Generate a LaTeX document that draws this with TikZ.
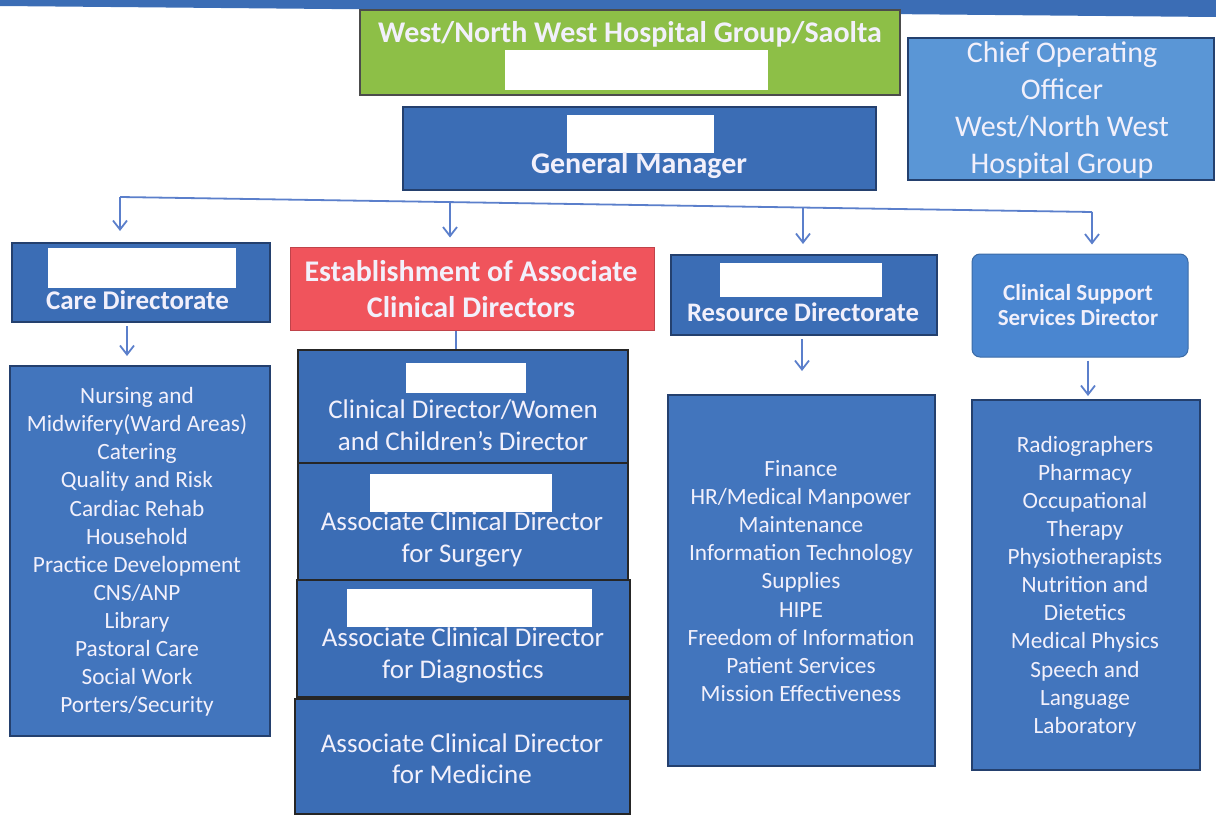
\documentclass[tikz,border=0pt]{standalone}
\usepackage{fontspec}
\setmainfont{Carlito}
\usetikzlibrary{arrows.meta}

\definecolor{navy}{HTML}{3B6DB5}
\definecolor{listblue}{HTML}{4275BD}
\definecolor{lightblue}{HTML}{5A96D6}
\definecolor{supblue}{HTML}{4A86D0}
\definecolor{edge}{HTML}{24406E}
\definecolor{leafgreen}{HTML}{8DBF47}
\definecolor{alertred}{HTML}{F0545C}
\definecolor{linkblue}{HTML}{5B7FCB}
\definecolor{txt}{HTML}{F2F0FB}

\tikzset{
  box/.style={draw=edge, line width=2pt, fill=navy, inner sep=0pt},
  blank/.style={fill=white, draw=none, inner sep=0pt},
  label/.style={text=txt, align=center, inner sep=0pt},
  head/.style={label, font=\fontsize{30}{36}\selectfont\bfseries},
  body/.style={label, font=\fontsize{27}{31.5}\selectfont},
  items/.style={label, font=\fontsize{23.3}{28.1}\selectfont},
  link/.style={draw=linkblue, line width=1.8pt},
  arrow/.style={link, -{Straight Barb[length=9pt,width=14pt,line width=1.8pt]}}
}

\begin{document}
\begin{tikzpicture}[x=1pt,y=-1pt]
\useasboundingbox (0,0) rectangle (1216,816);

% strip along the top edge
\fill[navy] (0,0) -- (1216,0) -- (1216,17) -- (0,6) -- cycle;

% group / general manager level
\node[box, draw=gray!60!black, fill=leafgreen, minimum width=540pt, minimum height=85pt] (group) at (630,52.5) {};
\node[blank, minimum width=263pt, minimum height=40pt] (groupname) at (636.5,70) {};
\node[head] (grouptext) at (630,34) {West/North West Hospital Group/Saolta};

\node[box, fill=lightblue, minimum width=306pt, minimum height=142pt] (coo) at (1061,109) {};
\node[label, font=\fontsize{30}{36.7}\selectfont] (cootext) at (1062,110)
  {Chief Operating\\Officer\\West/North West\\Hospital Group};

\node[box, minimum width=473pt, minimum height=83pt] (gm) at (639.5,148.5) {};
\node[blank, minimum width=147pt, minimum height=38pt] (gmname) at (640.5,134) {};
\node[head] (gmtext) at (639,166) {General Manager};

% directorates
\node[box, minimum width=258pt, minimum height=79pt] (care) at (141,282.5) {};
\node[blank, minimum width=188pt, minimum height=40pt] (carename) at (142,268) {};
\node[head, font=\fontsize{27}{30}\selectfont\bfseries] (caretext) at (137.5,300) {Care Directorate};

\node[box, draw=alertred!80!black, fill=alertred, line width=1pt, minimum width=364pt, minimum height=83pt] (acd) at (472,288.5) {};
\node[head] (acdtext) at (471,289) {Establishment of Associate\\Clinical Directors};

\node[box, minimum width=266pt, minimum height=80pt] (res) at (804,295) {};
\node[blank, minimum width=162pt, minimum height=34pt] (resname) at (801,280) {};
\node[head, font=\fontsize{26.7}{30}\selectfont\bfseries] (restext) at (803,312) {Resource Directorate};

\node[box, draw=supblue!80!black, fill=supblue, line width=1pt, rounded corners=8pt, minimum width=216pt, minimum height=103pt] (sup) at (1080,305.5) {};
\node[head, font=\fontsize{23}{25}\selectfont\bfseries] (suptext) at (1078,305.5) {Clinical Support\\Services Director};

% associate clinical director stack
\node[box, draw=black!85, line width=2.5pt, minimum width=330pt, minimum height=115pt] (s1) at (463,407.5) {};
\node[blank, minimum width=120pt, minimum height=30pt] (s1name) at (466,378) {};
\node[body] (s1text) at (463,425) {Clinical Director/Women\\and Children’s Director};

\node[box, draw=black!85, line width=2.5pt, minimum width=330pt, minimum height=117pt] (s2) at (463,521.5) {};
\node[blank, minimum width=182pt, minimum height=38pt] (s2name) at (461,493) {};
\node[body] (s2text) at (462,539.5) {Associate Clinical Director\\for Surgery};

\node[box, draw=black!85, line width=2.5pt, minimum width=333pt, minimum height=117pt] (s3) at (463.5,638.5) {};
\node[blank, minimum width=245pt, minimum height=38pt] (s3name) at (469.5,608) {};
\node[body] (s3text) at (463,655.5) {Associate Clinical Director\\for Diagnostics};

\node[box, draw=black!85, line width=2.5pt, minimum width=335pt, minimum height=115pt] (s4) at (462.5,756.5) {};
\node[body] (s4text) at (462,758.5) {Associate Clinical Director\\for Medicine};

% service lists
\node[box, fill=listblue, minimum width=260pt, minimum height=370pt] (carelist) at (140,551) {};
\node[items] (careitems) at (137,552)
  {Nursing and\\Midwifery(Ward Areas)\\Catering\\Quality and Risk\\Cardiac Rehab\\Household\\Practice Development\\CNS/ANP\\Library\\Pastoral Care\\Social Work\\Porters/Security};

\node[box, fill=listblue, minimum width=267pt, minimum height=371pt] (reslist) at (801.5,580.5) {};
\node[items] (resitems) at (801,581)
  {Finance\\HR/Medical Manpower\\Maintenance\\Information Technology\\Supplies\\HIPE\\Freedom of Information\\Patient Services\\Mission Effectiveness};

\node[box, fill=listblue, minimum width=228pt, minimum height=370pt] (suplist) at (1086,585) {};
\node[items] (supitems) at (1085,586.5)
  {Radiographers\\Pharmacy\\Occupational\\Therapy\\Physiotherapists\\Nutrition and\\Dietetics\\Medical Physics\\Speech and\\Language\\Laboratory};

% connectors
\coordinate (barL) at (120,197);
\coordinate (barR) at (1092,212);
\coordinate (barB) at (450,202);
\coordinate (barC) at (803,207.5);
\draw[link] (barL) -- (barR);
\draw[arrow, shorten >=11pt] (barL) -- (barL |- care.north);
\draw[arrow, shorten >=9pt] (barB) -- (barB |- acd.north);
\draw[arrow, shorten >=10pt] (barC) -- (barC |- res.north);
\draw[arrow, shorten >=9pt] (barR) -- (barR |- sup.north);

\draw[arrow, shorten <=3pt, shorten >=9pt] ([xshift=-14pt]care.south) -- ([xshift=-14pt]care.south |- carelist.north);
\draw[link] ([xshift=-16pt]acd.south) -- ([xshift=-16pt]acd.south |- s1.north);
\draw[arrow, shorten <=3pt, shorten >=23pt] ([xshift=-2pt]res.south) -- ([xshift=-2pt]res.south |- reslist.north);
\draw[arrow, shorten <=3pt, shorten >=3pt] ([xshift=8pt]sup.south) -- ([xshift=8pt]sup.south |- suplist.north);
\end{tikzpicture}
\end{document}
